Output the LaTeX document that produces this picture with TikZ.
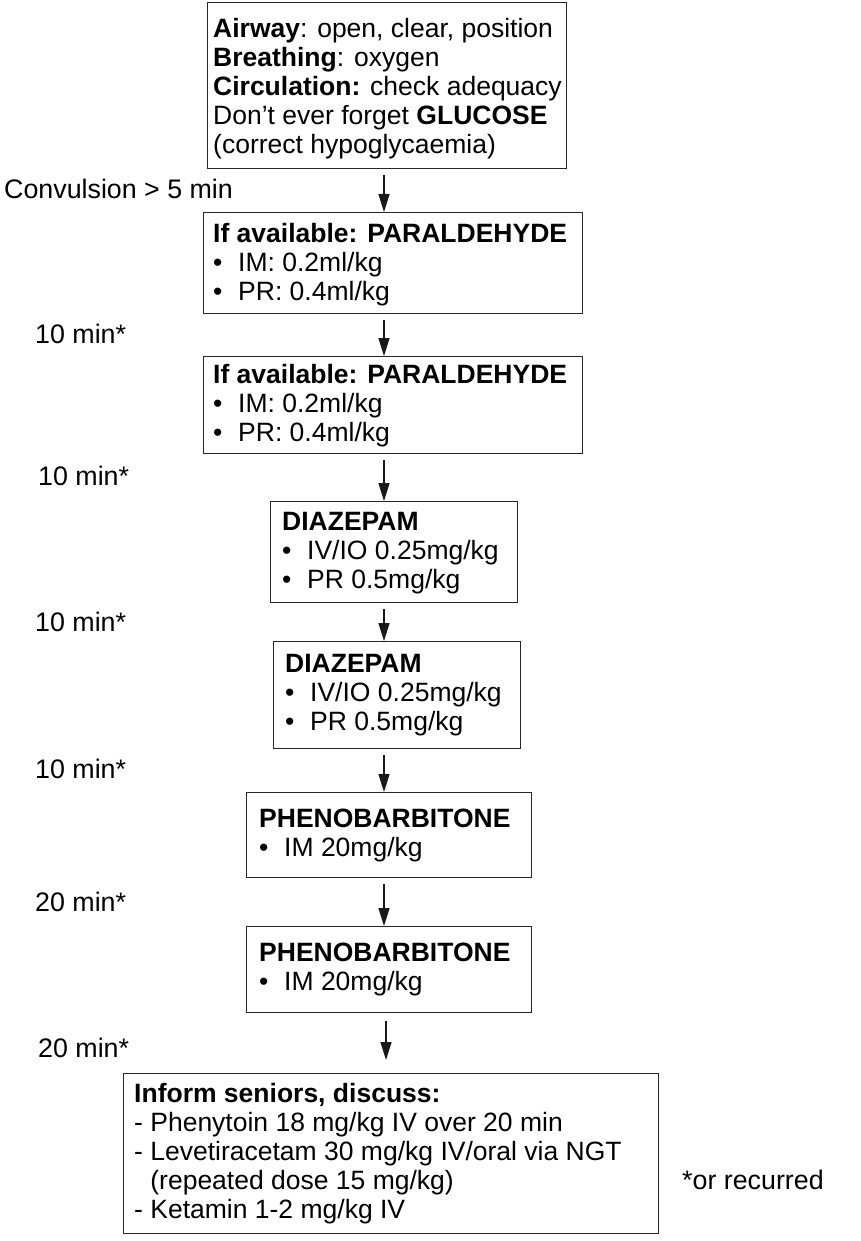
\documentclass[tikz,border=0pt]{standalone}
\usepackage{fontspec}
\setmainfont{Liberation Sans}
\usetikzlibrary{arrows.meta}
\begin{document}
\begin{tikzpicture}[x=1pt,y=-1pt,
  boxshape/.style={draw=black!85,line width=1.4pt,anchor=north west,inner sep=0pt,rectangle},
  boxtext/.style={anchor=west,align=left,inner sep=0pt,font=\fontsize{26.5}{29}\selectfont},
  sidetext/.style={anchor=west,inner sep=0pt,font=\fontsize{26.8}{29}\selectfont},
  arr/.style={line width=1.3pt,draw=black!90,-{Triangle[length=18pt,width=11pt]}}]
\useasboundingbox[fill=white] (0,0) rectangle (860,1241);
\newcommand{\bul}{\makebox[25pt][l]{•}}
% boxes
\node[boxshape,minimum width=359pt,minimum height=166pt] (b1) at (207,2) {};
\node[boxshape,minimum width=379pt,minimum height=101pt] (b2) at (203,212) {};
\node[boxshape,minimum width=379pt,minimum height=97pt] (b3) at (203,356) {};
\node[boxshape,minimum width=247pt,minimum height=101pt] (b4) at (270,501) {};
\node[boxshape,minimum width=247pt,minimum height=107pt] (b5) at (273,641) {};
\node[boxshape,minimum width=285pt,minimum height=85pt] (b6) at (246,792) {};
\node[boxshape,minimum width=285pt,minimum height=86pt] (b7) at (246,926) {};
\node[boxshape,minimum width=535pt,minimum height=160pt] (b8) at (123,1073) {};
% texts
\node[boxtext] (t1) at ([xshift=6pt,yshift=-3pt]b1.west) {\textbf{Airway}: open, clear, position\\\textbf{Breathing}: oxygen\\\textbf{Circulation:} check adequacy\\Don’t ever forget \textbf{GLUCOSE}\\(correct hypoglycaemia)};
\node[boxtext] (t2) at ([xshift=10pt,yshift=-1.5pt]b2.west) {\textbf{If available: PARALDEHYDE}\\\bul IM: 0.2ml/kg\\\bul PR: 0.4ml/kg};
\node[boxtext] (t3) at ([xshift=10pt]b3.west) {\textbf{If available: PARALDEHYDE}\\\bul IM: 0.2ml/kg\\\bul PR: 0.4ml/kg};
\node[boxtext] (t4) at ([xshift=12pt,yshift=-1pt]b4.west) {\textbf{DIAZEPAM}\\\bul IV/IO 0.25mg/kg\\\bul PR 0.5mg/kg};
\node[boxtext] (t5) at ([xshift=12pt]b5.west) {\textbf{DIAZEPAM}\\\bul IV/IO 0.25mg/kg\\\bul PR 0.5mg/kg};
\node[boxtext] (t6) at ([xshift=13pt]b6.west) {\textbf{PHENOBARBITONE}\\\bul IM 20mg/kg};
\node[boxtext] (t7) at ([xshift=13pt]b7.west) {\textbf{PHENOBARBITONE}\\\bul IM 20mg/kg};
\node[boxtext] (t8) at ([xshift=11pt]b8.west) {\textbf{Inform seniors, discuss:}\\- Phenytoin 18 mg/kg IV over 20 min\\- Levetiracetam 30 mg/kg IV/oral via NGT\\\phantom{-} (repeated dose 15 mg/kg)\\- Ketamin 1-2 mg/kg IV};
% side labels
\node[sidetext] (l1) at (4,189) {Convulsion > 5 min};
\node[sidetext] (l2) at (35,334) {10 min*};
\node[sidetext] (l3) at (38,476) {10 min*};
\node[sidetext] (l4) at (35,622) {10 min*};
\node[sidetext] (l5) at (35,769) {10 min*};
\node[sidetext] (l6) at (35,902) {20 min*};
\node[sidetext] (l7) at (38,1048) {20 min*};
\node[sidetext] (l8) at (682,1180) {*or recurred};
% arrows
\coordinate (xa) at (384,0);
\coordinate (xb) at (386,0);
\draw[arr] ([yshift=-6pt]b1.south -| xa) -- (b2.north -| xa);
\draw[arr] ([yshift=-6pt]b2.south -| xa) -- (b3.north -| xa);
\draw[arr] ([yshift=-6pt]b3.south -| xa) -- (b4.north -| xa);
\draw[arr] ([yshift=-6pt]b4.south -| xa) -- (b5.north -| xa);
\draw[arr] ([yshift=-6pt]b5.south -| xa) -- (b6.north -| xa);
\draw[arr] ([yshift=-6pt]b6.south -| xa) -- (b7.north -| xa);
\draw[arr] ([yshift=-8pt]b7.south -| xb) -- ([yshift=13pt]b8.north -| xb);
\end{tikzpicture}
\end{document}
